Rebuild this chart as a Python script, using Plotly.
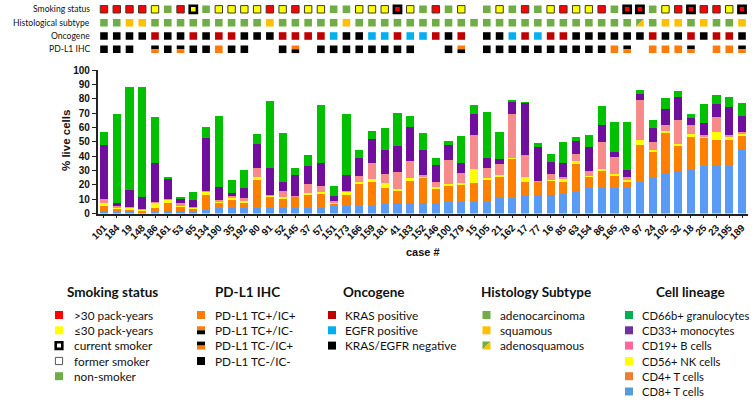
import plotly.graph_objects as go

# ---------------- data ----------------
cases = ["101","184","19","148","186","161","53","65","134","190",
         "35","192","80","91","52","145","37","57","151","173",
         "166","159","181","41","183","152","146","100","179","15",
         "105","21","162","17","77","16","85","63","154","86",
         "165","78","97","24","102","32","18","25","23","195","189"]

cd8 = [1.5,1,1,1,1,1.5,2,2,2.5,3.5, 3.5,3.5,4,4,4,4,4,4,5,5,
       5.5,5.5,6.5,7,7.5,7.5,7.5,8,8,8, 8,11,11,12.5,13,13,13.5,15,17.5,17.5,
       18,18,22,24.5,27.5,29.5,30,33,33,33,44.5]
cd4 = [4,2.5,2,1,3,5.5,3,1.5,10.5,4.5, 6,3.5,19.5,8,6.5,7.5,9.5,10,2,8,
       15,16.5,11.5,9,15.5,17.5,10,11.5,12,13.5, 16,15,27.5,9.5,9,10,8.5,19.5,8,12,
       8.5,4,26,18.5,28.5,18,23.5,19.5,18.5,18.5,9.5]
nk = [2,0.5,1,0.5,3.5,2.5,0.5,0.5,2,0.5, 1,2,2,0.5,1,0.5,0.5,1,0.5,2.5,
      1.5,2,3,1,2,1,1,1,1,9.5, 0.5,1,0.5,3.5,0.5,0.5,2,2,0.5,1.5,
      1,1.5,3,1.5,1.5,1,2,1.5,5,1.5,2]
bcell = [2.5,1,0.5,0.5,0.5,0.5,2,0.5,1,1, 2,1.5,6,0.5,4.5,0.5,6.5,4.5,1,0.5,
         4,11,6.5,12,11.5,1,3.5,16.5,7.5,23.5, 7,7.5,30.5,15.5,0.5,4,1.5,5,3.5,18.5,
         12,2,28,5,4.5,17,6.5,1,10.5,2,0.5]
mono = [38,2.5,12,8.5,27.5,14,2.5,5,36.5,9, 2,7,17,18.5,6,14.5,12.5,16,3.5,11,
        12.5,17,16.5,18,23.5,17.5,12,11,6.5,14.5, 7.5,3.5,8,36,23.5,8.5,10,9,17,12,
        3.5,5,4.5,10,10.5,15.5,4.5,8,9,19,11.5]
gran = [9,61.5,72,76.5,32,1.5,1.5,5.5,7.5,49.5, 9,13,7,47,34,4.5,7.5,40,7.5,42,
        6,5.5,15.5,23,8,11.5,4.5,2.5,19,6.5, 31.5,18.5,1.5,0.5,2.5,5.5,14.5,3,8.5,13.5,
        20.5,33.5,2.5,5.5,8,4.5,2.5,13,6.5,7.5,9]

# smoking: H = >30 pack-years, L = <=30 pack-years, N = non-smoker, "" = n/a
smoking_packyears = ["H","H","H","H","L","N","H","L","N","L",
                     "L","L","L","H","L","H","L","L","N","N",
                     "L","L","L","H","L","N","H","N","L","",
                     "N","L","N","H","N","L","H","L","L","H",
                     "N","H","H","N","L","H","H","H","H","L","H"]
smoking_current = [0,0,0,0,0,0,0,1,0,0, 0,0,0,0,0,0,0,0,0,0,
                   0,0,0,1,0,0,0,0,0,0, 0,0,0,0,0,0,0,0,0,0,
                   0,1,1,0,0,0,1,0,0,0,1]
# histology: A adeno, S squamous, AS adenosquamous
histology = ["A","A","S","S","A","A","A","A","A","A",
             "A","A","A","S","A","A","A","A","A","S",
             "A","A","A","A","A","A","A","A","A","A",
             "A","A","A","A","A","A","A","A","A","A",
             "A","A","AS","A","S","S","A","S","A","A","S"]
# oncogene: K KRAS+, E EGFR+, N negative
oncogene = ["N","N","N","N","K","N","N","K","N","K",
            "K","N","N","N","K","K","K","K","E","N",
            "N","E","E","K","E","E","K","N","K","",
            "N","N","E","K","E","K","K","N","N","N",
            "N","N","N","K","N","N","K","N","K","K","N"]
# PD-L1: "++" TC+/IC+, "+-" TC+/IC-, "-+" TC-/IC+, "--" TC-/IC-
pdl1 = ["--","--","--","","-+","--","-+","--","--","++",
        "--","--","","","--","+-","","--","--","--",
        "--","--","--","--","--","","","--","+-","",
        "--","--","--","--","--","--","--","--","--","--",
        "++","-+","","++","++","++","-+","","++","++","-+"]

row_labels = ["Smoking status", "Histological subtype", "Oncogene", "PD-L1 IHC"]
y_ticks = [0,10,20,30,40,50,60,70,80,90,100]

legend_groups = [
    ("Smoking status", [">30 pack-years", "\u226430 pack-years", "current smoker", "former smoker", "non-smoker"]),
    ("PD-L1 IHC", ["PD-L1 TC+/IC+", "PD-L1 TC+/IC-", "PD-L1 TC-/IC+", "PD-L1 TC-/IC-"]),
    ("Oncogene", ["KRAS positive", "EGFR positive", "KRAS/EGFR negative"]),
    ("Histology Subtype", ["adenocarcinoma", "squamous", "adenosquamous"]),
    ("Cell lineage", ["CD66b+ granulocytes", "CD33+ monocytes", "CD19+ B cells", "CD56+ NK cells", "CD4+ T cells", "CD8+ T cells"]),
]

# ---------------- style ----------------
W, H = 755, 406
def fx(p): return p / W
def fy(p): return 1 - p / H

RED, YEL, GRN = "#FF0000", "#FFFF00", "#70AD47"
SQ, KRAS, EGFR, PDO = "#FFC000", "#C00000", "#00B0F0", "#FF7C0A"
bar_series = [("CD8+ T cells", cd8, "#5A9BF5"), ("CD4+ T cells", cd4, "#FF8000"),
              ("CD56+ NK cells", nk, "#FFFF00"), ("CD19+ B cells", bcell, "#F78A8A"),
              ("CD33+ monocytes", mono, "#700E9E"), ("CD66b+ granulocytes", gran, "#00C000")]
cell_leg_colors = ["#00B050", "#7030A0", "#FF6699", "#FFFF00", "#ED7D31", "#5B9BD5"]

n = len(cases)
X0, X1 = 97.6, 748.4
PXU = (X1 - X0) / (n)  # pixels per category

fig = go.Figure()
for name, vals, col in bar_series:
    fig.add_trace(go.Bar(x=list(range(n)), y=vals, name=name, width=0.64,
                         marker=dict(color=col, line=dict(width=0)), showlegend=False))

shapes = []
annotations = []

# ---- top annotation panel (xref x, yref y2 in pixels from top) ----
ROW_Y = [9.3, 22.7, 36.0, 49.3]
HS = 3.8  # half size in px
def rect(i, row, color, hs=HS, line=None, lw=0, top=None, bot=None):
    hx = hs / PXU
    y0 = ROW_Y[row] - hs if top is None else top
    y1 = ROW_Y[row] + hs if bot is None else bot
    d = dict(type="rect", xref="x", yref="y2", x0=i - hx, x1=i + hx, y0=y0, y1=y1,
             fillcolor=color, layer="above")
    if line:
        d["line"] = dict(color=line, width=lw)
    else:
        d["line"] = dict(width=0)
    shapes.append(d)

for i in range(n):
    s = smoking_packyears[i]
    if s:
        col = {"H": RED, "L": YEL, "N": GRN}[s]
        if smoking_current[i]:
            rect(i, 0, col, hs=3.6, line="#000000", lw=2.6)
        elif s == "N":
            rect(i, 0, col)
        else:
            rect(i, 0, col, hs=3.7, line="#3A3A2A", lw=1)
    h = histology[i]
    if h == "A":
        rect(i, 1, GRN)
    elif h == "S":
        rect(i, 1, SQ)
    elif h == "AS":
        hx = HS / PXU
        yt, yb = ROW_Y[1] - HS, ROW_Y[1] + HS
        shapes.append(dict(type="path", xref="x", yref="y2", layer="above",
                           path=f"M {i-hx},{yt} L {i+hx},{yt} L {i-hx},{yb} Z",
                           fillcolor=GRN, line=dict(width=0)))
        shapes.append(dict(type="path", xref="x", yref="y2", layer="above",
                           path=f"M {i+hx},{yt} L {i+hx},{yb} L {i-hx},{yb} Z",
                           fillcolor=SQ, line=dict(width=0)))
    o = oncogene[i]
    if o:
        rect(i, 2, {"K": KRAS, "E": EGFR, "N": "#000000"}[o])
    p = pdl1[i]
    yc = ROW_Y[3]
    if p == "++":
        rect(i, 3, PDO)
    elif p == "--":
        rect(i, 3, "#000000")
    elif p == "+-":
        rect(i, 3, PDO, top=yc - HS, bot=yc)
        rect(i, 3, "#000000", top=yc, bot=yc + HS)
    elif p == "-+":
        rect(i, 3, "#000000", top=yc - HS, bot=yc)
        rect(i, 3, PDO, top=yc, bot=yc + HS)

for r, lab in enumerate(row_labels):
    annotations.append(dict(x=fx(92), y=fy(ROW_Y[r]), xref="paper", yref="paper",
                            text=lab, showarrow=False, xanchor="right", yanchor="middle",
                            font=dict(family="Lato", size=8.6, color="#111")))

# ---- axis titles ----
annotations.append(dict(x=fx(66), y=fy(141), xref="paper", yref="paper", text="% live cells",
                        textangle=-90, showarrow=False, xanchor="center", yanchor="middle",
                        font=dict(family="Liberation Sans", size=11.5, color="#111", weight="bold")))
annotations.append(dict(x=fx(423), y=fy(252), xref="paper", yref="paper", text="case #",
                        showarrow=False, xanchor="center", yanchor="middle",
                        font=dict(family="Liberation Sans", size=11, color="#111", weight="bold")))

# ---- legend ----
HEAD_Y = 291.5
ITEM_Y = [315, 330.3, 345.6, 361, 376.2, 391.5]
head_x = [112, 248, 374, 536, 690]
icon_x = [59, 201, 332, 486.5, 629]
text_x = [71.5, 213, 343, 497.5, 640]
item_size = [11.8, 11.8, 11.8, 11.8, 11.2]
IS = 4.0
def picon(cx, cy, color, line=None, lw=0, y0=None, y1=None):
    d = dict(type="rect", xref="paper", yref="paper",
             x0=fx(cx - IS), x1=fx(cx + IS),
             y0=fy(cy + IS if y1 is None else y1), y1=fy(cy - IS if y0 is None else y0),
             fillcolor=color, line=dict(color=line, width=lw) if line else dict(width=0))
    shapes.append(d)

for g, (head, items) in enumerate(legend_groups):
    annotations.append(dict(x=fx(head_x[g]), y=fy(HEAD_Y), xref="paper", yref="paper",
                            text=head, showarrow=False, xanchor="center", yanchor="middle",
                            font=dict(family="Lato", size=13.5, color="#111", weight="bold")))
    for k, it in enumerate(items):
        cy = ITEM_Y[k]
        cx = icon_x[g]
        annotations.append(dict(x=fx(text_x[g]), y=fy(cy), xref="paper", yref="paper",
                                text=it, showarrow=False, xanchor="left", yanchor="middle",
                                font=dict(family="Lato", size=item_size[g], color="#111")))
        if g == 0:
            if k == 0: picon(cx, cy, RED)
            elif k == 1: picon(cx, cy, YEL)
            elif k == 2:
                shapes.append(dict(type="rect", xref="paper", yref="paper",
                                   x0=fx(cx-3.3), x1=fx(cx+3.3), y0=fy(cy+3.3), y1=fy(cy-3.3),
                                   fillcolor="white", line=dict(color="black", width=2.6)))
            elif k == 3:
                shapes.append(dict(type="rect", xref="paper", yref="paper",
                                   x0=fx(cx-3.6), x1=fx(cx+3.6), y0=fy(cy+3.6), y1=fy(cy-3.6),
                                   fillcolor="white", line=dict(color="#555", width=1)))
            else: picon(cx, cy, GRN)
        elif g == 1:
            if k == 0: picon(cx, cy, PDO)
            elif k == 1:
                picon(cx, cy, PDO, y0=cy - IS, y1=cy)
                picon(cx, cy, "#000", y0=cy, y1=cy + IS)
            elif k == 2:
                picon(cx, cy, "#000", y0=cy - IS, y1=cy)
                picon(cx, cy, PDO, y0=cy, y1=cy + IS)
            else: picon(cx, cy, "#000")
        elif g == 2:
            picon(cx, cy, [KRAS, EGFR, "#000"][k])
        elif g == 3:
            if k < 2:
                picon(cx, cy, [GRN, SQ][k])
            else:
                xl, xr = fx(cx - IS), fx(cx + IS)
                yt, yb = fy(cy - IS), fy(cy + IS)
                shapes.append(dict(type="path", xref="paper", yref="paper",
                                   path=f"M {xl},{yt} L {xr},{yt} L {xl},{yb} Z",
                                   fillcolor=GRN, line=dict(width=0)))
                shapes.append(dict(type="path", xref="paper", yref="paper",
                                   path=f"M {xr},{yt} L {xr},{yb} L {xl},{yb} Z",
                                   fillcolor=SQ, line=dict(width=0)))
        else:
            picon(cx, cy, cell_leg_colors[k])

fig.update_layout(
    width=W, height=H, autosize=False,
    margin=dict(l=0, r=0, t=0, b=0),
    paper_bgcolor="white", plot_bgcolor="white",
    barmode="stack", bargap=0.3,
    showlegend=False,
    xaxis=dict(domain=[fx(X0), fx(X1)], range=[-0.5, n - 0.5], anchor="y",
               tickmode="array", tickvals=list(range(n)), ticktext=cases,
               tickangle=-45, tickfont=dict(family="Liberation Sans", size=9.8, color="#111", weight="bold"),
               showline=True, linecolor="#222", linewidth=1.5, ticks="outside", ticklen=3,
               tickcolor="#222", showgrid=False, zeroline=False, automargin=False),
    yaxis=dict(domain=[fy(213.5), fy(70)], range=[0, 100], anchor="x",
               tickmode="array", tickvals=y_ticks,
               tickfont=dict(family="Liberation Sans", size=10, color="#111", weight="bold"),
               showline=True, linecolor="#222", linewidth=1.5, ticks="outside", ticklen=4,
               tickcolor="#222", showgrid=False, zeroline=False, automargin=False),
    yaxis2=dict(domain=[fy(60), 1.0], range=[60, 0], anchor="x", visible=False,
                showgrid=False, zeroline=False),
    shapes=shapes, annotations=annotations,
)

fig.write_html("out.html", config={"displayModeBar": False},
               post_script="document.body.style.margin='0';document.body.style.overflow='hidden';")
